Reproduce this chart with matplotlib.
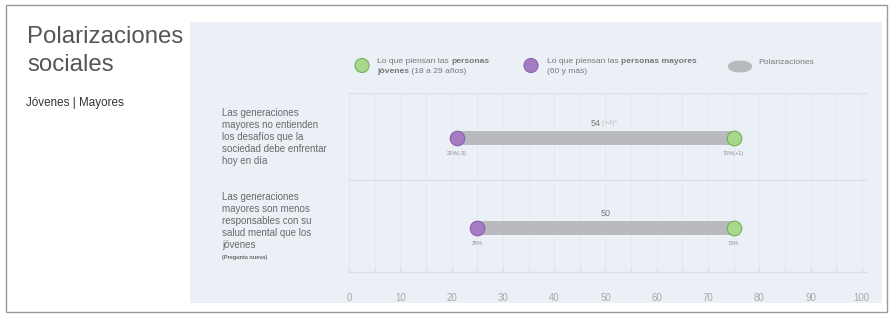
import matplotlib
matplotlib.use('Agg')
import matplotlib.pyplot as plt
from matplotlib.patches import Rectangle, FancyBboxPatch, Ellipse

plt.rcParams['font.family'] = ['Liberation Sans', 'DejaVu Sans']

# Datos
preguntas = [
    "Las generaciones\nmayores no entienden\nlos desafíos que la\nsociedad debe enfrentar\nhoy en día",
    "Las generaciones\nmayores son menos\nresponsables con su\nsalud mental que los\njóvenes",
]
mayores = [21, 25]
jovenes = [75, 75]
etiq_mayores = ["21%(-3)", "25%"]
etiq_jovenes = ["75%(+1)", "75%"]
polarizacion = ["54", "50"]
cambio = [" (+4)*", ""]
ticks = [0, 10, 20, 30, 40, 50, 60, 70, 80, 90, 100]

W, H = 894, 315
VERDE, VERDE_BORDE = '#a9d88c', '#72b05a'
MORADO, MORADO_BORDE = '#a57cc4', '#8a5fae'
GRIS = '#b8babd'
PANEL = '#ebf0f6'


def px(x, y):
    return x / W, 1 - y / H


fig = plt.figure(figsize=(W / 100, H / 100), dpi=100)
fig.patch.set_facecolor('white')

# marco exterior y panel (detras de los ejes)
fig.patches.append(Rectangle(px(6, 312), 881 / W, 307 / H, transform=fig.transFigure,
                             fill=False, edgecolor='#9a9a9a', lw=1, zorder=-10))
fig.patches.append(Rectangle(px(190, 303), 692 / W, 281 / H, transform=fig.transFigure,
                             facecolor=PANEL, edgecolor='none', zorder=-10))

# titulo
fig.text(*px(27, 26), "Polarizaciones\nsociales", fontsize=17.3, color='#555555',
         va='top', ha='left', linespacing=1.38)
fig.text(*px(26, 103), "Jóvenes | Mayores", fontsize=8.4, color='#333333',
         va='center', ha='left')

# eje principal
x0, x1, ytop, ybot = 349, 867, 93, 272
ax = fig.add_axes([x0 / W, 1 - ybot / H, (x1 - x0) / W, (ybot - ytop) / H])
ax.set_facecolor('none')
ax.set_xlim(0, 101)
ax.set_ylim(1.49, -0.5)
for s in ['top', 'right', 'left']:
    ax.spines[s].set_visible(False)
ax.spines['bottom'].set_color('#d5dde6')
ax.spines['bottom'].set_linewidth(0.8)
ax.set_xticks(ticks)
ax.set_xticks(range(5, 100, 10), minor=True)
ax.set_xticklabels([str(t) for t in ticks])
ax.tick_params(axis='x', which='both', direction='in', length=3, color='#d5dde6',
               labelsize=7, labelcolor='#a8a8a8', pad=15)
ax.set_yticks([])
ax.grid(axis='x', which='both', color='#e3e9f0', lw=0.7)
ax.set_axisbelow(True)
for yl in [-0.5, 0.467]:
    ax.axhline(yl, color='#d8e0e9', lw=0.9)

for i in range(len(preguntas)):
    ax.plot([mayores[i], jovenes[i]], [i, i], color=GRIS, lw=10, solid_capstyle='butt', zorder=2)
    ax.plot(mayores[i], i, 'o', ms=10.5, mfc=MORADO, mec=MORADO_BORDE, mew=0.8, zorder=3)
    ax.plot(jovenes[i], i, 'o', ms=10.5, mfc=VERDE, mec=VERDE_BORDE, mew=0.8, zorder=3)
    ax.text(mayores[i], i + 0.17, etiq_mayores[i], fontsize=4, color='#8a8a8a',
            ha='center', va='center')
    ax.text(jovenes[i], i + 0.17, etiq_jovenes[i], fontsize=4, color='#8a8a8a',
            ha='center', va='center')
    centro = (mayores[i] + jovenes[i]) / 2
    t = ax.text(centro, i - 0.16, polarizacion[i], fontsize=6.5, color='#777777',
                ha='center', va='center')
    if cambio[i]:
        ax.annotate(cambio[i], xy=(1, 0.5), xycoords=t, fontsize=5, color='#c0c0c0',
                    ha='left', va='center')

# etiquetas de las preguntas
fig.text(*px(222, 108), preguntas[0], fontsize=7, color='#6a6a6a', va='top',
         ha='left', linespacing=1.25)
fig.text(*px(222, 192), preguntas[1], fontsize=7, color='#6a6a6a', va='top',
         ha='left', linespacing=1.25)
fig.text(*px(222, 258), "(Pregunta nueva)", fontsize=4, color='#6a6a6a',
         va='center', ha='left', weight='bold')


# leyenda: texto por segmentos (normal / negrita), alineado por la linea base
def segmentos(x, y, partes, size=6.1, color='#777777'):
    renderer = fig.canvas.get_renderer()
    cx = x
    for txt, peso in partes:
        t = fig.text(*px(cx, y), txt, fontsize=size, color=color, weight=peso,
                     va='baseline', ha='left')
        bb = t.get_window_extent(renderer=renderer)
        cx += bb.width


def circulo(x, y, d, fc, ec):
    e = Ellipse(px(x, y), d / W, d / H, transform=fig.transFigure,
                facecolor=fc, edgecolor=ec, lw=0.8)
    fig.patches.append(e)


circulo(362, 65.5, 14, VERDE, VERDE_BORDE)
segmentos(377, 63.5, [("Lo que piensan las ", 'normal'), ("personas", 'bold')])
segmentos(377, 73, [("jóvenes", 'bold'), (" (18 a 29 años)", 'normal')])

circulo(531, 65.5, 14, MORADO, MORADO_BORDE)
segmentos(547, 63.5, [("Lo que piensan las ", 'normal'), ("personas mayores", 'bold')])
segmentos(547, 73, [("(60 y más)", 'normal')])

fig.patches.append(FancyBboxPatch(px(728, 73), 24 / W, 13 / H, transform=fig.transFigure,
                                  boxstyle='round,pad=0,rounding_size=0.02',
                                  facecolor=GRIS, edgecolor='none'))
segmentos(758, 64.5, [("Polarizaciones", 'normal')])

fig.savefig('out.png', dpi=100)
